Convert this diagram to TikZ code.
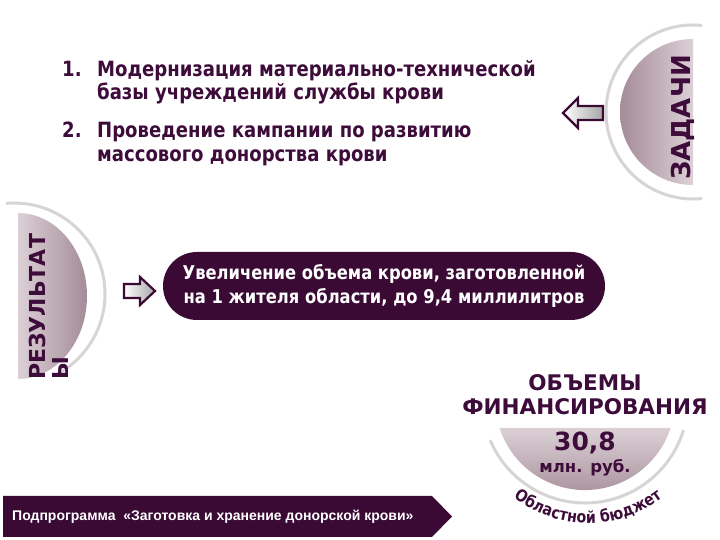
\documentclass[tikz,border=0pt]{standalone}
\usepackage{fontspec}
\setmainfont{DejaVu Sans}
\newfontfamily\condb[FakeStretch=0.86]{DejaVu Sans Bold}
\newfontfamily\heavy{DejaVu Sans Bold}
\newfontfamily\arialb{Liberation Sans Bold}
\usetikzlibrary{decorations.text}
\definecolor{dp}{HTML}{3A0A35}
\definecolor{tp}{HTML}{3D0C3A}
\definecolor{mdark}{HTML}{A48C98}
\definecolor{mlight}{HTML}{DCD0D6}
\definecolor{arcg}{HTML}{D8D4D6}
\tikzset{
  listtext/.style={text=tp, font=\condb\fontsize{21}{24}\selectfont, inner sep=0pt, anchor=base west},
  sidelabel/.style={text=tp, rotate=90, inner sep=0pt, anchor=base west},
  outerarc/.style={draw=arcg, line width=3pt},
  blockarrow/.style={draw=dp, line width=2.2pt, line join=miter, left color=white, right color=black!35},
}
\begin{document}
\begin{tikzpicture}[x=1pt,y=1pt]
\useasboundingbox (0,0) rectangle (720,540);
% ---- ZADACHI disc (top right)
\draw[outerarc] (693,428) ++(84:87) arc[start angle=84, end angle=276, radius=87];
\path[left color=mdark, right color=mlight] (693,501) arc[start angle=90, end angle=270, radius=73] -- cycle;
\node[sidelabel, font=\heavy\fontsize{26}{26}\selectfont] (zad) at (690,360) {ЗАДАЧИ};
% ---- tasks list
\node[listtext] (n1) at (62,463) {1.};
\node[listtext] (t1a) at (97,463) {Модернизация материально-технической};
\node[listtext] (t1b) at (97,440) {базы учреждений службы крови};
\node[listtext] (n2) at (62,402) {2.};
\node[listtext] (t2a) at (97,402) {Проведение кампании по развитию};
\node[listtext] (t2b) at (97,378) {массового донорства крови};
% arrow pointing left
\coordinate (la) at (563,427);
\path[blockarrow] (la) -- ++(15,15) -- ++(0,-8) -- ++(25,0) -- ++(0,-14) -- ++(-25,0) -- ++(0,-8) -- cycle;
% ---- RESULTS disc (left)
\draw[outerarc] (14,246) ++(95:91) arc[start angle=95, end angle=-62, radius=91];
\path[left color=mlight, right color=mdark] (18,327) arc[start angle=90, end angle=-90, x radius=69, y radius=83] -- cycle;
\node[sidelabel, font=\heavy\fontsize{22}{22}\selectfont] (res1) at (45,160) {РЕЗУЛЬТАТ};
\node[sidelabel, font=\heavy\fontsize{22}{22}\selectfont] (res2) at (68,160) {Ы};
% arrow pointing right
\coordinate (ra) at (155,249);
\path[blockarrow] (ra) -- ++(-15,14) -- ++(0,-7) -- ++(-16,0) -- ++(0,-14) -- ++(16,0) -- ++(0,-7) -- cycle;
% result box
\node[fill=dp, rounded corners=34pt, minimum width=442pt, minimum height=68pt, inner sep=0pt] (box) at (384,254) {};
\node[text=white, font=\condb\fontsize{19}{24}\selectfont, align=center, inner sep=0pt] (boxt) at (box.center) {Увеличение объема крови, заготовленной\\на 1 жителя области, до 9,4 миллилитров};
% ---- financing
\node[text=tp, font=\heavy\fontsize{21.5}{24}\selectfont, inner sep=0pt] (fin1) at (585,157) {ОБЪЕМЫ};
\node[text=tp, font=\heavy\fontsize{21.5}{24}\selectfont, inner sep=0pt] (fin2) at (585,133) {ФИНАНСИРОВАНИЯ};
\draw[outerarc] (585,140) ++(203:103) arc[start angle=203, end angle=343, radius=103];
\path[top color=mlight, bottom color=mdark] (499.5,112) arc[start angle=198.1, end angle=341.9, radius=90] -- cycle;
\node[text=tp, font=\heavy\fontsize{25}{25}\selectfont, inner sep=0pt] (sum) at (585,97) {30,8};
\node[text=tp, font=\heavy\fontsize{16.5}{18}\selectfont, inner sep=0pt] (unit) at (585,72) {млн. руб.};
\path[decorate, decoration={text along path, text align=center, text color=tp,
  text={|\condb\fontsize{16.5}{16}\selectfont|Областной бюджет}}]
  (588,140) ++(208:123) arc[start angle=208, end angle=332, radius=123];
% ---- bottom banner
\path[fill=dp] (3,44) -- (432,44) -- (452,23.5) -- (432,3) -- (3,3) -- cycle;
\node[text=white, font=\arialb\fontsize{14}{14}\selectfont, anchor=west, inner sep=0pt] (sub) at (12,23.5) {Подпрограмма \ «Заготовка и хранение донорской крови»};
\end{tikzpicture}
\end{document}
